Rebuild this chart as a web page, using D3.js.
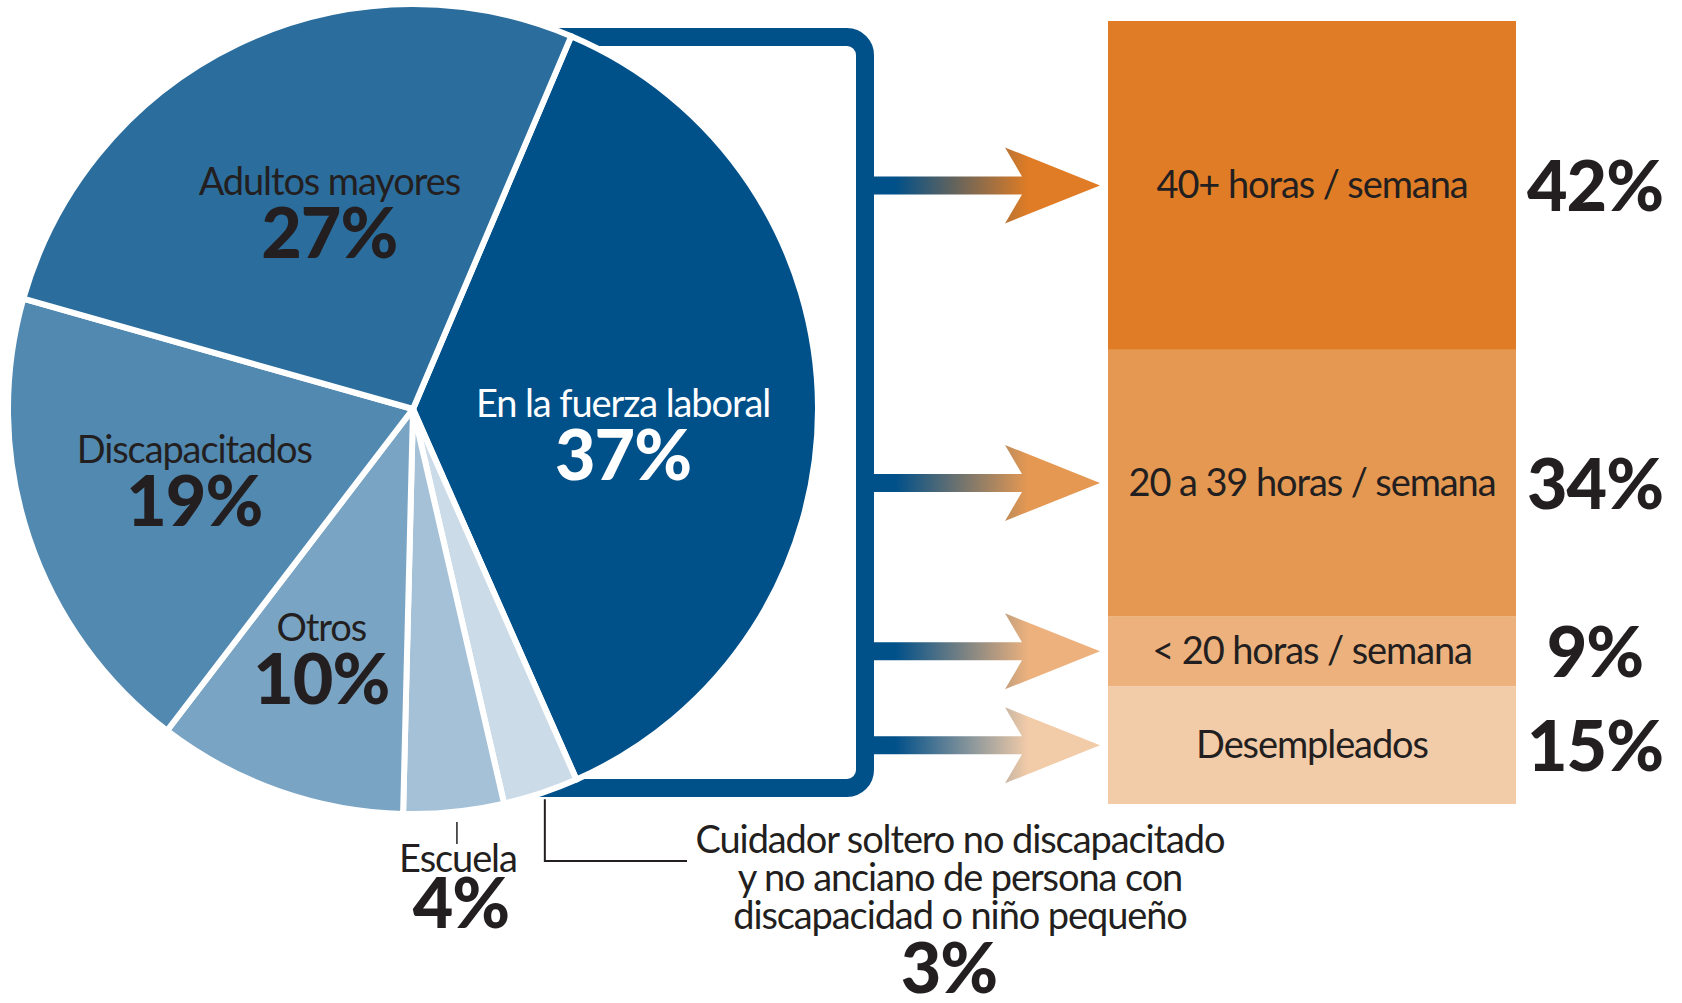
<!DOCTYPE html>
<html>
<head>
<meta charset="utf-8">
<script src="https://cdn.jsdelivr.net/npm/d3@7"></script>
<style>
  body { margin: 0; background: #fff; }
  text { font-family: Lato, "Noto Sans", sans-serif; fill: #231f20; }
  .name { font-size: 38px; font-weight: 400; letter-spacing: -1.1px; }
  .pct { font-size: 70px; font-weight: 900; letter-spacing: -1px; }
</style>
</head>
<body>
<svg id="chart" width="1682" height="1003"></svg>
<script>
// datos del pastel
var pieCategories = ['En la fuerza laboral', 'Cuidador soltero no discapacitado y no anciano de persona con discapacidad o niño pequeño', 'Escuela', 'Otros', 'Discapacitados', 'Adultos mayores'];
var pieValues = [37, 3, 4, 10, 19, 27];
// datos de horas
var hourCategories = ['40+ horas / semana', '20 a 39 horas / semana', '< 20 horas / semana', 'Desempleados'];
var hourValues = [42, 34, 9, 15];

var pieColors = ['#00508a', '#cbdbe8', '#a4c1d7', '#7aa4c4', '#5289b1', '#2b6d9c'];
var hourColors = ['#df7c25', '#e59852', '#ecb17d', '#f2cba8'];
var blue = '#00508a';

var svg = d3.select('#chart');
var cx = 413, cy = 409, radius = 405;
var startA = 23 * Math.PI / 180;
// ajuste fino de etiquetas dentro del pastel (px)
var labelNudge = { 0: [-30, 22], 3: [-12, 18], 4: [9, -10], 5: [20, 14] };

// barra apilada
var barX0 = 1108, barX1 = 1516;
var y = d3.scaleLinear().domain([0, 100]).range([21, 804]);

var bracketRight = 865, bracketTop = 37, bracketBottom = 788;

drawBracket();
drawPie();
drawPieLabels();
drawBars();

function drawBracket() {
  var r = 18;
  var p = d3.path();
  p.moveTo(530, bracketTop);
  p.lineTo(bracketRight - r, bracketTop);
  p.arcTo(bracketRight, bracketTop, bracketRight, bracketTop + r, r);
  p.lineTo(bracketRight, bracketBottom - r);
  p.arcTo(bracketRight, bracketBottom, bracketRight - r, bracketBottom, r);
  p.lineTo(530, bracketBottom);
  svg.append('path')
    .attr('class', 'bracket')
    .attr('d', p.toString())
    .attr('fill', 'none')
    .attr('stroke', blue)
    .attr('stroke-width', 18);
}

function pieLayout() {
  return d3.pie().sort(null).value(d => d)
    .startAngle(startA).endAngle(startA + Math.PI * 2);
}

function drawPie() {
  var arc = d3.arc().innerRadius(0).outerRadius(radius);

  svg.append('g')
    .attr('class', 'pie')
    .attr('transform', 'translate(' + cx + ',' + cy + ')')
    .selectAll('path')
    .data(pieLayout()(pieValues))
    .enter()
    .append('path')
    .attr('d', arc)
    .attr('fill', (d, i) => pieColors[i])
    .attr('stroke', '#fff')
    .attr('stroke-width', 6)
    .attr('stroke-linejoin', 'round');
}

function drawPieLabels() {
  var arcs = pieLayout()(pieValues);
  var labelArc = d3.arc().innerRadius(240).outerRadius(240);
  var g = svg.append('g')
    .attr('transform', 'translate(' + cx + ',' + cy + ')');

  // etiquetas dentro del pastel: laboral, otros, discapacitados, adultos
  [0, 3, 4, 5].forEach(function (i) {
    var c = labelArc.centroid(arcs[i]);
    var px = c[0] + labelNudge[i][0];
    var py = c[1] + labelNudge[i][1];
    var color = i === 0 ? '#fff' : '#231f20';
    g.append('text')
      .attr('class', 'name')
      .attr('x', px).attr('y', py - 12)
      .attr('text-anchor', 'middle')
      .style('fill', color)
      .text(pieCategories[i]);
    g.append('text')
      .attr('class', 'pct')
      .attr('x', px).attr('y', py + 51)
      .attr('text-anchor', 'middle')
      .style('fill', color)
      .text(pieValues[i] + '%');
  });

  // Escuela: linea vertical bajo el pastel
  var midE = (arcs[2].startAngle + arcs[2].endAngle) / 2;
  var ex = radius * Math.sin(midE);
  g.append('line')
    .attr('x1', ex + 3).attr('x2', ex + 3)
    .attr('y1', radius + 8).attr('y2', radius + 30)
    .attr('stroke', '#231f20').attr('stroke-width', 1.5);
  g.append('text')
    .attr('class', 'name')
    .attr('x', ex + 4).attr('y', radius + 58)
    .attr('text-anchor', 'middle')
    .text(pieCategories[2]);
  g.append('text')
    .attr('class', 'pct')
    .attr('x', ex + 7).attr('y', radius + 114)
    .attr('text-anchor', 'middle')
    .text(pieValues[2] + '%');

  // Cuidador: linea en L hacia el texto
  var midC = (arcs[1].startAngle + arcs[1].endAngle) / 2;
  var lx = radius * Math.sin(midC) + 4;
  var ly = -radius * Math.cos(midC);
  g.append('path')
    .attr('d', 'M' + lx + ',' + (ly + 6) + 'V' + (radius + 47) + 'H' + (687 - cx))
    .attr('fill', 'none')
    .attr('stroke', '#231f20')
    .attr('stroke-width', 2);

  var lines = ['Cuidador soltero no discapacitado', 'y no anciano de persona con', 'discapacidad o niño pequeño'];
  var t = g.append('text')
    .attr('class', 'name')
    .attr('text-anchor', 'middle');
  lines.forEach(function (s, k) {
    t.append('tspan')
      .attr('x', 960 - cx)
      .attr('y', 853 - cy + k * 38)
      .text(s);
  });
  g.append('text')
    .attr('class', 'pct')
    .attr('x', 949 - cx).attr('y', 993 - cy)
    .attr('text-anchor', 'middle')
    .text(pieValues[1] + '%');
}

function drawBars() {
  var stack = [];
  var acc = 0;
  hourValues.forEach(function (v, i) {
    stack.push({ name: hourCategories[i], value: v, y0: acc, y1: acc + v, color: hourColors[i] });
    acc += v;
  });

  var defs = svg.append('defs');
  defs.selectAll('linearGradient')
    .data(stack)
    .enter()
    .append('linearGradient')
    .attr('id', (d, i) => 'grad' + i)
    .attr('gradientUnits', 'userSpaceOnUse')
    .attr('x1', 895).attr('x2', 1028)
    .attr('y1', 0).attr('y2', 0)
    .each(function (d) {
      d3.select(this).append('stop').attr('offset', 0).attr('stop-color', blue);
      d3.select(this).append('stop').attr('offset', 1).attr('stop-color', d.color);
    });

  var bars = svg.append('g').attr('class', 'bars');

  bars.selectAll('rect')
    .data(stack)
    .enter()
    .append('rect')
    .attr('x', barX0)
    .attr('y', d => y(d.y0))
    .attr('width', barX1 - barX0)
    .attr('height', d => y(d.y1) - y(d.y0))
    .attr('fill', d => d.color);

  // flechas desde el corchete
  bars.selectAll('path.arrow')
    .data(stack)
    .enter()
    .append('path')
    .attr('class', 'arrow')
    .attr('fill', (d, i) => 'url(#grad' + i + ')')
    .attr('d', function (d) {
      var m = (y(d.y0) + y(d.y1)) / 2;
      return 'M' + bracketRight + ',' + (m - 9) +
        'L1022,' + (m - 9) + 'L1005,' + (m - 38) + 'L1100,' + m +
        'L1005,' + (m + 38) + 'L1022,' + (m + 9) + 'L' + bracketRight + ',' + (m + 9) + 'Z';
    });

  bars.selectAll('text.name')
    .data(stack)
    .enter()
    .append('text')
    .attr('class', 'name')
    .attr('x', (barX0 + barX1) / 2)
    .attr('y', d => (y(d.y0) + y(d.y1)) / 2 + 13)
    .attr('text-anchor', 'middle')
    .text(d => d.name);

  bars.selectAll('text.pct')
    .data(stack)
    .enter()
    .append('text')
    .attr('class', 'pct')
    .attr('x', 1595)
    .attr('y', d => (y(d.y0) + y(d.y1)) / 2 + 26)
    .attr('text-anchor', 'middle')
    .text(d => d.value + '%');
}
</script>
</body>
</html>
